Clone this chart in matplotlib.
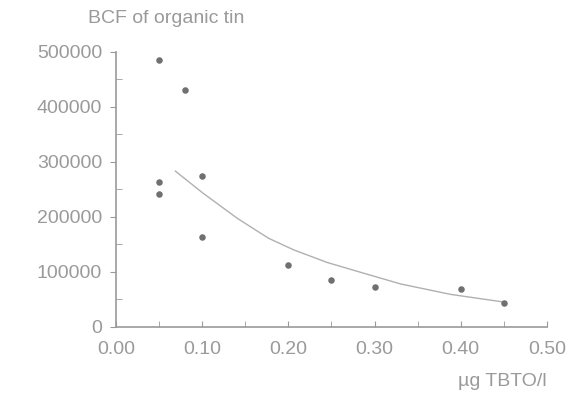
import numpy as np
import matplotlib
matplotlib.use("Agg")
import matplotlib.pyplot as plt
from matplotlib.ticker import MultipleLocator

# measured points: TBTO concentration (ug/l) vs BCF of organic tin
conc = [0.05, 0.05, 0.05, 0.08, 0.10, 0.10, 0.20, 0.25, 0.30, 0.40, 0.45]
bcf = [485000, 263000, 241000, 430000, 275000, 164000, 113000, 86000, 73000, 68000, 44000]

# fitted curve
fit_x = [0.069, 0.101, 0.141, 0.177, 0.206, 0.245, 0.284, 0.330, 0.388, 0.45]
fit_y = [283000, 243000, 197000, 161000, 140000, 117000, 99000, 78000, 59000, 45000]

x_ticks = [0.0, 0.1, 0.2, 0.3, 0.4, 0.5]
x_labels = ["0.00", "0.10", "0.20", "0.30", "0.40", "0.50"]
y_ticks = [0, 100000, 200000, 300000, 400000, 500000]

grey = "#9a9a9a"
plt.rcParams["font.family"] = ["Liberation Sans", "DejaVu Sans"]

fig = plt.figure(figsize=(5.74, 4.08), dpi=100)
ax = fig.add_axes([0.202, 0.199, 0.751, 0.674])

ax.plot(fit_x, fit_y, color="#b0b0b0", linewidth=1.0)
ax.scatter(conc, bcf, s=22, color="#707070", zorder=3, linewidths=0)

ax.set_xlim(0, 0.5)
ax.set_ylim(0, 500000)
ax.set_xticks(x_ticks)
ax.set_xticklabels(x_labels)
ax.set_yticks(y_ticks)
ax.set_yticklabels([str(v) for v in y_ticks])
ax.xaxis.set_minor_locator(MultipleLocator(0.05))
ax.yaxis.set_minor_locator(MultipleLocator(50000))

for s in ["top", "right"]:
    ax.spines[s].set_visible(False)
for s in ["left", "bottom"]:
    ax.spines[s].set_color(grey)
    ax.spines[s].set_linewidth(1.2)

ax.tick_params(axis="x", which="both", direction="in", length=4, color=grey,
               labelsize=14, labelcolor=grey, pad=10)
ax.tick_params(axis="y", which="major", direction="out", length=4, color=grey,
               labelsize=14, labelcolor=grey, pad=6)
ax.tick_params(axis="y", which="minor", direction="in", length=4, color=grey)

fig.text(0.153, 0.955, "BCF of organic tin", color=grey, fontsize=14, va="center")
fig.text(0.953, 0.066, "\u00b5g TBTO/l", color=grey, fontsize=14, va="center", ha="right")

fig.savefig("out.png", dpi=100, facecolor="white")
